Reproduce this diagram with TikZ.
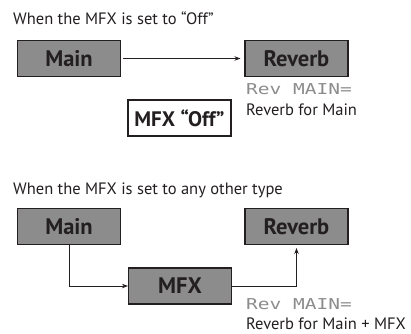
\documentclass[tikz,border=0pt]{standalone}
\usepackage{fontspec}
\setmainfont{PT Sans}
\newfontfamily\lcdfont{DejaVu Sans Mono}
\usetikzlibrary{arrows.meta}
\definecolor{boxgray}{HTML}{8C8C8C}
\definecolor{ink}{HTML}{231F20}
\begin{document}
\begin{tikzpicture}[x=1pt,y=-1pt,
  blk/.style={draw=ink,line width=1.1pt,fill=boxgray,minimum width=103pt,minimum height=36pt,inner sep=0pt,font=\fontsize{22.5}{26}\selectfont\bfseries,text=ink},
  wblk/.style={blk,fill=white,font=\fontsize{21}{24}\selectfont\bfseries},
  txt/.style={anchor=base west,inner sep=0pt,font=\fontsize{16.5}{20}\selectfont,text=ink},
  lcd/.style={anchor=base west,inner sep=0pt,font=\fontsize{15}{18}\lcdfont,text=black!45},
  conn/.style={draw=ink,line width=0.8pt,-{Stealth[length=6pt,width=4.5pt]}}]
\useasboundingbox (0,0) rectangle (411,333);
% top
\node[txt] (t1) at (13,24) {When the MFX is set to “Off”};
\node[blk] (m1) at (69,58.5) {Main};
\node[blk] (r1) at (296.5,58.5) {Reverb};
\node[wblk] (o1) at (179.5,118) {MFX “Off”};
\node[lcd] (l1) at (246,94) {\scalebox{1.3}[1]{Rev MAIN=}};
\node[txt] (d1) at (246,115) {Reverb for Main};
\draw[conn,shorten <=1.5pt,shorten >=4pt] (m1) -- (r1);
% bottom
\node[txt] (t2) at (13,194) {When the MFX is set to any other type};
\node[blk] (m2) at (69,226.5) {Main};
\node[blk] (r2) at (296.5,226.5) {Reverb};
\node[blk] (x2) at (180,286) {MFX};
\draw[conn] (m2.south) |- (x2.west);
\draw[conn,shorten >=3pt] (x2.east) -| (r2.south);
\node[lcd] (l2) at (246,309) {\scalebox{1.3}[1]{Rev MAIN=}};
\node[txt] (d2) at (246,329) {Reverb for Main + MFX};
\end{tikzpicture}
\end{document}
